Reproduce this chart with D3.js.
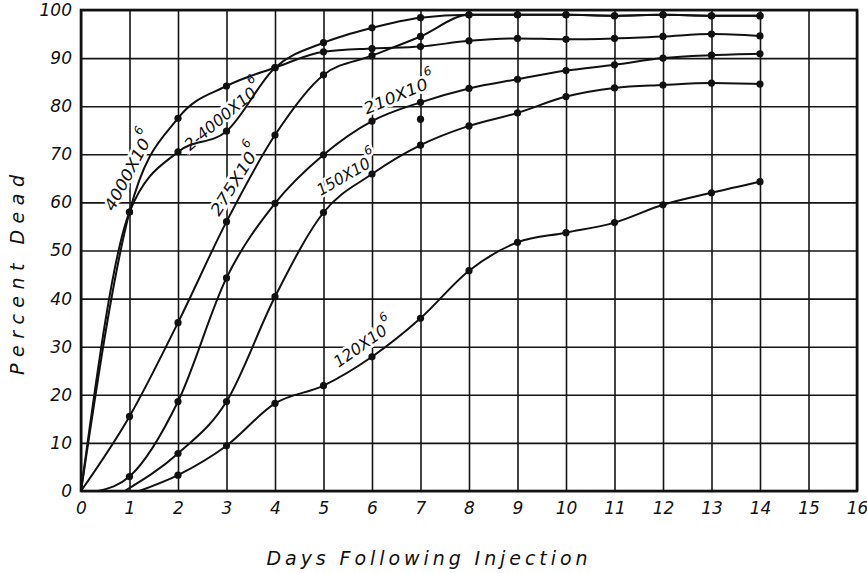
<!DOCTYPE html>
<html>
<head>
<meta charset="utf-8">
<script src="https://cdn.jsdelivr.net/npm/d3@7"></script>
<style>
  body { margin: 0; background: #fff; }
  text { font-family: "DejaVu Sans", sans-serif; font-style: italic; fill: #111; }
</style>
</head>
<body>
<div id="chart"></div>
<script>
// tick values
const xTicks = d3.range(0, 17);
const yTicks = d3.range(0, 101, 10);

// days / percent dead for each dose (cells per animal)
const days4000 = [0, 1, 2, 3, 4, 5, 6, 7, 8, 9, 10, 11, 12, 13, 14];
const pct4000 = [0, 58, 77.5, 84.2, 88, 91.3, 92.0, 92.4, 93.6, 94.1, 93.9, 94.1, 94.5, 95.0, 94.6];

const days2x4000 = [0, 1, 2, 3, 4, 5, 6, 7, 8, 9, 10, 11, 12, 13, 14];
const pct2x4000 = [0, 58, 70.5, 74.8, 88, 93.2, 96.3, 98.4, 99.0, 99.0, 99.0, 98.8, 99.0, 98.8, 98.8];

const days275 = [0, 1, 2, 3, 4, 5, 6, 7, 8, 9, 10, 11, 12, 13, 14];
const pct275 = [0, 15.5, 35.0, 56.0, 74.0, 86.5, 90.5, 94.5, 99.0, 99.0, 99.0, 98.8, 99.0, 98.8, 98.8];

const days210 = [0.35, 1, 2, 3, 4, 5, 6, 7, 8, 9, 10, 11, 12, 13, 14];
const pct210 = [0, 3.0, 18.6, 44.3, 59.8, 69.9, 76.9, 80.8, 83.7, 85.6, 87.4, 88.6, 90.0, 90.6, 90.9];

const days150 = [0.9, 2, 3, 4, 5, 6, 7, 8, 9, 10, 11, 12, 13, 14];
const pct150 = [0, 7.8, 18.6, 40.4, 57.9, 65.9, 71.9, 75.9, 78.6, 82.0, 83.8, 84.4, 84.8, 84.6];

const days120 = [1.2, 2, 3, 4, 5, 6, 7, 8, 9, 10, 11, 12, 13, 14];
const pct120 = [0, 3.3, 9.4, 18.2, 21.9, 27.9, 35.9, 45.8, 51.7, 53.7, 55.8, 59.5, 62.0, 64.3];

// a point plotted off the 210 curve
const strayDays = [7];
const strayPct = [77.3];

const series = [
  {days: days4000, pct: pct4000},
  {days: days2x4000, pct: pct2x4000},
  {days: days275, pct: pct275},
  {days: days210, pct: pct210},
  {days: days150, pct: pct150},
  {days: days120, pct: pct120}
];

// curve labels: text, where it starts (day, pct), angle, length
const labels = [
  {text: "4000X10", day: 0.56, pct: 58.6, angle: -62, len: 79},
  {text: "2-4000X10", day: 2.17, pct: 71.6, angle: -40, len: 88},
  {text: "275X10", day: 2.74, pct: 57.6, angle: -58, len: 72},
  {text: "210X10", day: 5.84, pct: 79.4, angle: -23, len: 68},
  {text: "150X10", day: 4.88, pct: 62.4, angle: -30, len: 59},
  {text: "120X10", day: 5.24, pct: 26.6, angle: -35, len: 61}
];

const width = 867, height = 573;
const plotL = 81, plotR = 857, plotT = 10, plotB = 491;

const svg = d3.select("#chart")
  .append("svg")
  .attr("width", width)
  .attr("height", height);

const x = d3.scaleLinear().domain([0, 16]).range([plotL, plotR]);
const y = d3.scaleLinear().domain([0, 100]).range([plotB, plotT]);

// grid + tick labels
const gx = svg.append("g")
  .attr("transform", `translate(0,${plotB})`)
  .call(d3.axisBottom(x).tickValues(xTicks).tickSize(-(plotB - plotT)).tickPadding(11));
const gy = svg.append("g")
  .attr("transform", `translate(${plotL},0)`)
  .call(d3.axisLeft(y).tickValues(yTicks).tickSize(-(plotR - plotL)).tickPadding(9));

[gx, gy].forEach(g => {
  g.select(".domain").remove();
  g.selectAll(".tick line").attr("stroke", "#151515").attr("stroke-width", 1.6);
  g.selectAll(".tick text")
    .attr("font-family", "DejaVu Sans")
    .attr("font-style", "italic")
    .attr("font-size", 17)
    .attr("fill", "#111");
});

svg.append("rect")
  .attr("x", plotL).attr("y", plotT)
  .attr("width", plotR - plotL).attr("height", plotB - plotT)
  .attr("fill", "none").attr("stroke", "#111").attr("stroke-width", 2.6);

// curve labels, white halo breaks the grid under them
labels.forEach(l => {
  const t = svg.append("text")
    .attr("transform", `translate(${x(l.day)},${y(l.pct)}) rotate(${l.angle})`)
    .attr("dominant-baseline", "central")
    .attr("font-size", 16)
    .attr("stroke", "#fff")
    .attr("stroke-width", 5)
    .attr("paint-order", "stroke");
  t.append("tspan").text(l.text)
    .attr("textLength", l.len)
    .attr("lengthAdjust", "spacingAndGlyphs");
  t.append("tspan").text("6")
    .attr("font-size", 12)
    .attr("dx", 1)
    .attr("dy", -10);
});

const line = d3.line()
  .x(d => x(d[0]))
  .y(d => y(d[1]))
  .curve(d3.curveMonotoneX);

series.forEach(s => {
  const pts = s.days.map((d, i) => [d, s.pct[i]]);
  svg.append("path")
    .datum(pts)
    .attr("d", line)
    .attr("fill", "none")
    .attr("stroke", "#111")
    .attr("stroke-width", 2);

  svg.selectAll(null)
    .data(pts.filter(p => p[1] > 0))
    .enter()
    .append("circle")
    .attr("cx", d => x(d[0]))
    .attr("cy", d => y(d[1]))
    .attr("r", 3.6)
    .attr("fill", "#111");
});

svg.selectAll(null)
  .data(strayDays.map((d, i) => [d, strayPct[i]]))
  .enter()
  .append("circle")
  .attr("cx", d => x(d[0]))
  .attr("cy", d => y(d[1]))
  .attr("r", 3.6)
  .attr("fill", "#111");

// axis titles
svg.append("text")
  .attr("x", 427).attr("y", 565)
  .attr("text-anchor", "middle")
  .attr("font-size", 19)
  .attr("textLength", 321)
  .attr("lengthAdjust", "spacing")
  .text("Days Following Injection");

svg.append("text")
  .attr("transform", "translate(24,275) rotate(-90)")
  .attr("text-anchor", "middle")
  .attr("font-size", 19)
  .attr("textLength", 200)
  .attr("lengthAdjust", "spacing")
  .text("Percent Dead");
</script>
</body>
</html>
